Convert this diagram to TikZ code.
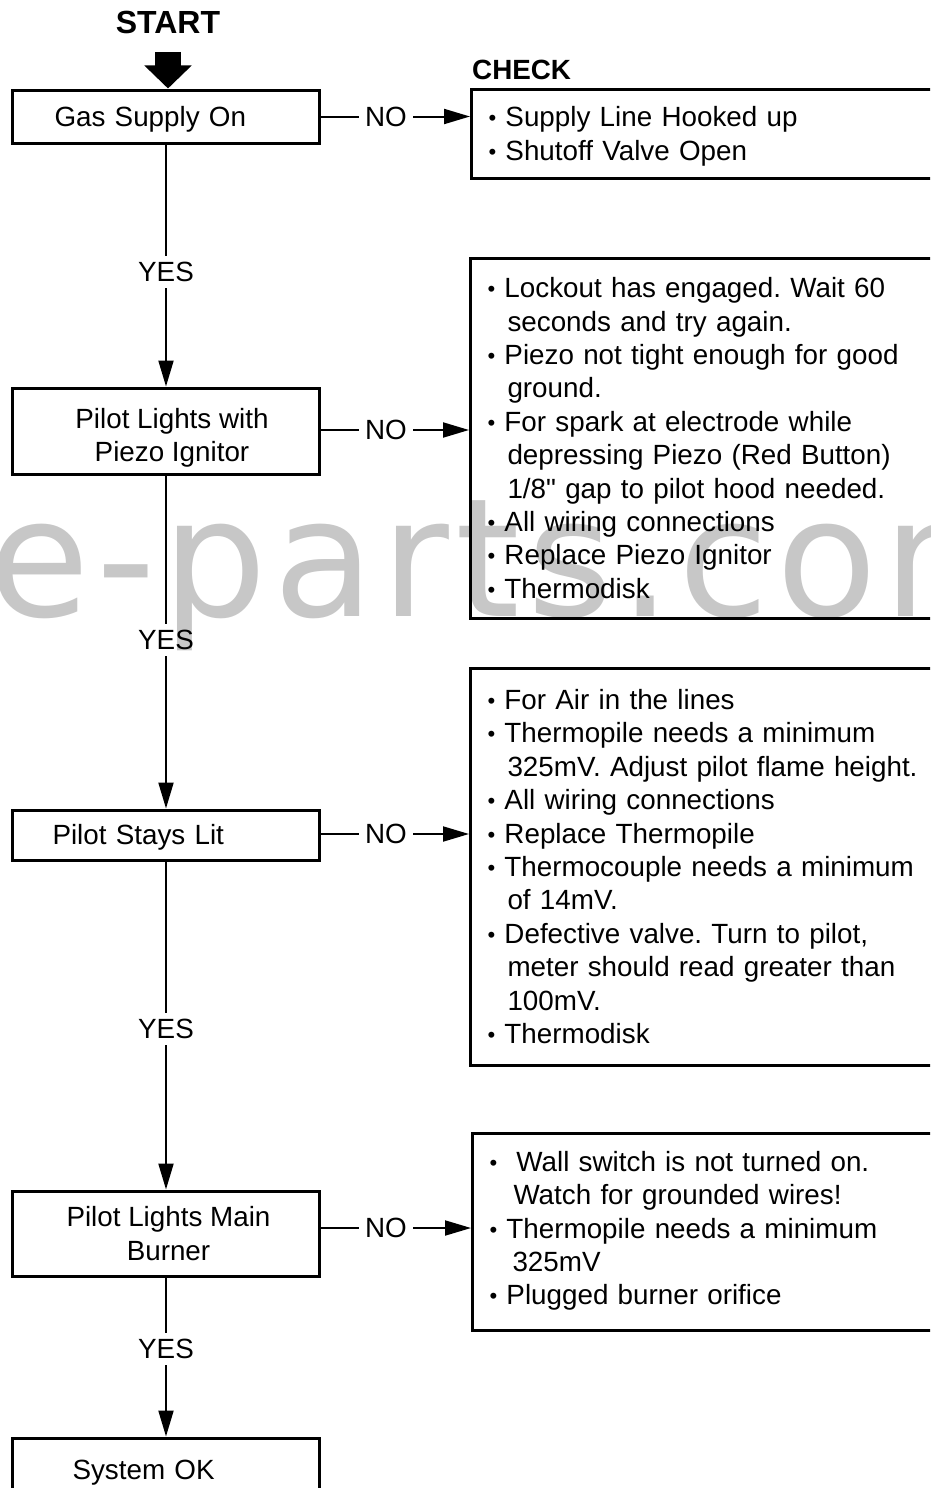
\documentclass[tikz,border=0pt]{standalone}
\usepackage{fontspec}
\setmainfont{Liberation Sans}[Ligatures=TeXOff]
\newfontfamily\wmfont[LetterSpace=4]{DejaVu Sans}
\usetikzlibrary{arrows.meta}
\newcommand\mys{\rule[-6.7pt]{0pt}{33.4pt}}
\newcommand\mysb{\rule[-13.7pt]{0pt}{40.4pt}}
\newcommand\myst{\rule[-6.7pt]{0pt}{41.4pt}}
\newcommand\bul{\raisebox{1pt}{\fontsize{22}{22}\selectfont•}\ }
\begin{document}
\frenchspacing
\begin{tikzpicture}[x=1pt,y=-1pt,
  font=\fontsize{27.8}{33.4}\selectfont,
  box/.style={draw, line width=3pt, minimum width=307pt},
  one/.style={text height=19.9pt, text depth=0pt},
  chk/.style={draw, line width=3pt, anchor=west, text width=446pt,
              inner xsep=17pt, inner ysep=0pt, align=left},
  lbl/.style={inner sep=6pt, text height=19.9pt, text depth=0pt},
  conn/.style={line width=2pt},
  arr/.style={conn, -{Triangle[length=26pt,width=15pt]}}]
\useasboundingbox (0,0) rectangle (930,1488);
\clip (0,0) rectangle (930,1488);

% watermark
\node[anchor=base west, inner sep=0pt, text=black!22,
      font=\wmfont\fontsize{165}{165}\selectfont] (wm) at (-12,616) {e-parts.com};

% start
\node[one, inner sep=0pt, font=\bfseries\fontsize{32}{38}\selectfont] (start) at (168,24) {START};
\coordinate (arrtop) at (168,52);

% left boxes
\node[box, one, text width=223pt, inner xsep=42pt, align=left, minimum height=53pt] (b1) at (166,116.5) {Gas Supply On};
\node[box, align=center, minimum height=86pt] (b2) at (166,431) {\myst\hspace*{12pt}Pilot Lights with\\\hspace*{12pt}Piezo Ignitor\mys};
\node[box, one, text width=227pt, inner xsep=40pt, align=left, minimum height=50pt] (b3) at (166,835) {Pilot Stays Lit};
\node[box, align=center, minimum height=85pt] (b4) at (166,1233.5) {\mys\hspace*{5pt}Pilot Lights Main\\\hspace*{5pt}Burner\mys};
\node[box, one, text width=187pt, inner xsep=60pt, align=left, minimum height=64pt] (b5) at (166,1470) {System OK};

% check label
\node[one, inner sep=0pt, anchor=west, font=\bfseries\fontsize{27.8}{33.4}\selectfont] (checklbl) at (472,70) {CHECK};

% check boxes
\node[chk, minimum height=89pt] (c1) at (470,133.5) {\mys\bul Supply Line Hooked up\\\bul Shutoff Valve Open\mys};
\node[chk, minimum height=360pt] (c2) at (469,438) {\mys\bul Lockout has engaged. Wait 60\\
\hspace*{20pt}seconds and try again.\\
\bul Piezo not tight enough for good\\
\hspace*{20pt}ground.\\
\bul For spark at electrode while\\
\hspace*{20pt}depressing Piezo (Red Button)\\
\hspace*{20pt}1/8" gap to pilot hood needed.\\
\bul All wiring connections\\
\bul Replace Piezo Ignitor\\
\bul Thermodisk\mys};
\node[chk, minimum height=397pt] (c3) at (469,866.5) {\mys\bul For Air in the lines\\
\bul Thermopile needs a minimum\\
\hspace*{20pt}325mV. Adjust pilot flame height.\\
\bul All wiring connections\\
\bul Replace Thermopile\\
\bul Thermocouple needs a minimum\\
\hspace*{20pt}of 14mV.\\
\bul Defective valve. Turn to pilot,\\
\hspace*{20pt}meter should read greater than\\
\hspace*{20pt}100mV.\\
\bul Thermodisk\mys};
\node[chk, minimum height=197pt] (c4) at (471,1231.5) {\mys\bul\hspace{10pt}Wall switch is not turned on.\\
\hspace*{24pt}Watch for grounded wires!\\
\bul Thermopile needs a minimum\\
\hspace*{23pt}325mV\\
\bul Plugged burner orifice\mysb};

% labels
\node[lbl] (no1) at (386,116.5) {NO};
\node[lbl] (no2) at (386,430) {NO};
\node[lbl] (no3) at (386,834) {NO};
\node[lbl] (no4) at (386,1228) {NO};
\node[lbl] (yes1) at (166,272) {YES};
\node[lbl] (yes2) at (166,640) {YES};
\node[lbl] (yes3) at (166,1029) {YES};
\node[lbl] (yes4) at (166,1349) {YES};

% start arrow
\draw[line width=26pt, -{Triangle[length=23pt,width=46pt]}] (arrtop) -- (arrtop |- b1.north);

% vertical connectors
\draw[conn] (b1.south) -- (yes1);
\draw[arr] (yes1) -- (b2.north);
\draw[conn] (b2.south) -- (yes2);
\draw[arr] (yes2) -- (b3.north);
\draw[conn] (b3.south) -- (yes3);
\draw[arr] (yes3) -- (b4.north);
\draw[conn] (b4.south) -- (yes4);
\draw[arr] (yes4) -- (b5.north);

% NO connectors
\draw[conn] (no1 -| b1.east) -- (no1);
\draw[arr] (no1) -- (no1 -| c1.west);
\draw[conn] (no2 -| b2.east) -- (no2);
\draw[arr] (no2) -- (no2 -| c2.west);
\draw[conn] (no3 -| b3.east) -- (no3);
\draw[arr] (no3) -- (no3 -| c3.west);
\draw[conn] (no4 -| b4.east) -- (no4);
\draw[arr] (no4) -- (no4 -| c4.west);
\end{tikzpicture}
\end{document}
